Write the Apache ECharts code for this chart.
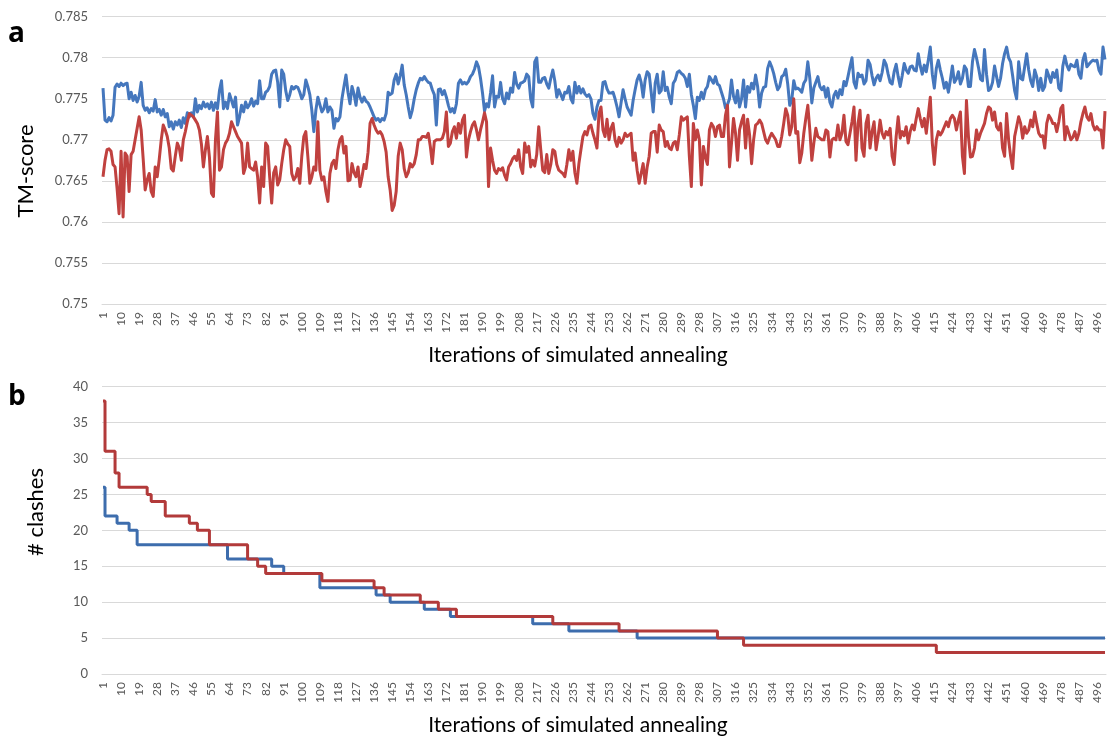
<!DOCTYPE html>
<html>
<head>
<meta charset="utf-8">
<title>Simulated annealing: TM-score and clashes</title>
<script src="https://cdn.jsdelivr.net/npm/echarts@6/dist/echarts.min.js"></script>
<style>
  html, body { margin: 0; padding: 0; background: #ffffff; }
  #chart { width: 1110px; height: 740px; }
</style>
</head>
<body>
<div id="chart"></div>
<script>
// Iteration numbers 1..500 used as category labels
const iterations = Array.from({ length: 500 }, (_, k) => String(k + 1));

// Panel a: TM-score per iteration (blue run)
const tmScoreBlue = [
  0.7763, 0.7724, 0.7722, 0.7727, 0.7723, 0.7730, 0.7764, 0.7768, 0.7765, 0.7769,
  0.7766, 0.7768, 0.7769, 0.7750, 0.7758, 0.7748, 0.7754, 0.7746, 0.7753, 0.7770,
  0.7742, 0.7736, 0.7739, 0.7733, 0.7738, 0.7735, 0.7749, 0.7734, 0.7737, 0.7730,
  0.7737, 0.7728, 0.7732, 0.7716, 0.7722, 0.7713, 0.7722, 0.7718, 0.7724, 0.7715,
  0.7727, 0.7720, 0.7733, 0.7728, 0.7733, 0.7728, 0.7750, 0.7734, 0.7742, 0.7738,
  0.7746, 0.7740, 0.7744, 0.7738, 0.7746, 0.7736, 0.7745, 0.7738, 0.7760, 0.7772,
  0.7738, 0.7746, 0.7738, 0.7756, 0.7748, 0.7740, 0.7752, 0.7718, 0.7728, 0.7742,
  0.7734, 0.7746, 0.7739, 0.7743, 0.7750, 0.7741, 0.7747, 0.7744, 0.7772, 0.7750,
  0.7750, 0.7758, 0.7760, 0.7765, 0.7780, 0.7784, 0.7785, 0.7770, 0.7740, 0.7785,
  0.7780, 0.7760, 0.7748, 0.7755, 0.7765, 0.7762, 0.7765, 0.7764, 0.7758, 0.7750,
  0.7755, 0.7773, 0.7765, 0.7755, 0.7736, 0.7710, 0.7736, 0.7752, 0.7743, 0.7734,
  0.7738, 0.7750, 0.7734, 0.7740, 0.7736, 0.7714, 0.7726, 0.7723, 0.7728, 0.7750,
  0.7765, 0.7779, 0.7758, 0.7744, 0.7765, 0.7756, 0.7742, 0.7763, 0.7752, 0.7746,
  0.7752, 0.7747, 0.7745, 0.7740, 0.7734, 0.7728, 0.7724, 0.7726, 0.7722, 0.7726,
  0.7724, 0.7732, 0.7758, 0.7755, 0.7757, 0.7773, 0.7780, 0.7768, 0.7778, 0.7791,
  0.7767, 0.7755, 0.7740, 0.7727, 0.7736, 0.7750, 0.7761, 0.7769, 0.7775, 0.7773,
  0.7777, 0.7773, 0.7770, 0.7769, 0.7761, 0.7755, 0.7718, 0.7761, 0.7762, 0.7755,
  0.7760, 0.7752, 0.7742, 0.7734, 0.7738, 0.7733, 0.7744, 0.7769, 0.7773, 0.7768,
  0.7770, 0.7768, 0.7771, 0.7777, 0.7780, 0.7786, 0.7795, 0.7789, 0.7775, 0.7757,
  0.7735, 0.7744, 0.7740, 0.7757, 0.7778, 0.7740, 0.7753, 0.7752, 0.7770, 0.7750,
  0.7744, 0.7757, 0.7750, 0.7763, 0.7758, 0.7782, 0.7768, 0.7763, 0.7769, 0.7770,
  0.7772, 0.7780, 0.7777, 0.7750, 0.7740, 0.7795, 0.7800, 0.7770, 0.7770, 0.7775,
  0.7776, 0.7768, 0.7763, 0.7775, 0.7785, 0.7772, 0.7752, 0.7761, 0.7755, 0.7749,
  0.7758, 0.7757, 0.7765, 0.7750, 0.7745, 0.7770, 0.7757, 0.7765, 0.7757, 0.7762,
  0.7756, 0.7753, 0.7755, 0.7750, 0.7732, 0.7725, 0.7740, 0.7748, 0.7748, 0.7770,
  0.7771, 0.7762, 0.7757, 0.7757, 0.7758, 0.7750, 0.7740, 0.7728, 0.7745, 0.7761,
  0.7750, 0.7740, 0.7735, 0.7730, 0.7748, 0.7761, 0.7773, 0.7779, 0.7770, 0.7752,
  0.7773, 0.7783, 0.7780, 0.7758, 0.7734, 0.7769, 0.7780, 0.7757, 0.7760, 0.7783,
  0.7760, 0.7764, 0.7752, 0.7744, 0.7769, 0.7773, 0.7782, 0.7784, 0.7781, 0.7779,
  0.7775, 0.7765, 0.7780, 0.7755, 0.7742, 0.7726, 0.7752, 0.7748, 0.7758, 0.7750,
  0.7761, 0.7765, 0.7777, 0.7773, 0.7769, 0.7777, 0.7768, 0.7766, 0.7758, 0.7750,
  0.7739, 0.7743, 0.7750, 0.7773, 0.7753, 0.7745, 0.7760, 0.7740, 0.7750, 0.7773,
  0.7740, 0.7765, 0.7758, 0.7769, 0.7762, 0.7779, 0.7765, 0.7740, 0.7757, 0.7764,
  0.7765, 0.7787, 0.7795, 0.7789, 0.7781, 0.7770, 0.7761, 0.7765, 0.7777, 0.7779,
  0.7786, 0.7768, 0.7742, 0.7748, 0.7772, 0.7762, 0.7763, 0.7761, 0.7758, 0.7769,
  0.7773, 0.7795, 0.7775, 0.7745, 0.7763, 0.7770, 0.7777, 0.7765, 0.7761, 0.7765,
  0.7752, 0.7763, 0.7746, 0.7740, 0.7754, 0.7759, 0.7751, 0.7761, 0.7755, 0.7771,
  0.7766, 0.7777, 0.7789, 0.7800, 0.7770, 0.7763, 0.7781, 0.7777, 0.7779, 0.7768,
  0.7772, 0.7797, 0.7792, 0.7778, 0.7767, 0.7775, 0.7779, 0.7772, 0.7782, 0.7797,
  0.7792, 0.7780, 0.7770, 0.7768, 0.7783, 0.7792, 0.7777, 0.7765, 0.7778, 0.7793,
  0.7785, 0.7781, 0.7789, 0.7790, 0.7785, 0.7784, 0.7805, 0.7790, 0.7780, 0.7791,
  0.7783, 0.7797, 0.7813, 0.7780, 0.7763, 0.7787, 0.7797, 0.7785, 0.7775, 0.7763,
  0.7770, 0.7758, 0.7773, 0.7790, 0.7770, 0.7774, 0.7783, 0.7768, 0.7775, 0.7790,
  0.7786, 0.7765, 0.7765, 0.7795, 0.7810, 0.7800, 0.7788, 0.7774, 0.7772, 0.7810,
  0.7780, 0.7760, 0.7762, 0.7770, 0.7790, 0.7777, 0.7765, 0.7775, 0.7793, 0.7805,
  0.7813, 0.7800, 0.7795, 0.7778, 0.7760, 0.7750, 0.7795, 0.7775, 0.7773, 0.7789,
  0.7805, 0.7785, 0.7772, 0.7765, 0.7785, 0.7777, 0.7760, 0.7775, 0.7760, 0.7765,
  0.7785, 0.7778, 0.7770, 0.7782, 0.7776, 0.7785, 0.7763, 0.7760, 0.7790, 0.7802,
  0.7791, 0.7785, 0.7792, 0.7790, 0.7789, 0.7797, 0.7780, 0.7775, 0.7797, 0.7805,
  0.7789, 0.7792, 0.7795, 0.7797, 0.7796, 0.7797, 0.7785, 0.7780, 0.7813, 0.7798
];

// Panel a: TM-score per iteration (red run)
const tmScoreRed = [
  0.7655, 0.7675, 0.7688, 0.7689, 0.7686, 0.7670, 0.7667, 0.7641, 0.7610, 0.7686,
  0.7606, 0.7684, 0.7680, 0.7637, 0.7682, 0.7686, 0.7700, 0.7714, 0.7728, 0.7712,
  0.7677, 0.7639, 0.7651, 0.7659, 0.7637, 0.7631, 0.7667, 0.7655, 0.7676, 0.7700,
  0.7718, 0.7712, 0.7704, 0.7690, 0.7665, 0.7662, 0.7680, 0.7696, 0.7690, 0.7675,
  0.7700, 0.7710, 0.7722, 0.7732, 0.7730, 0.7728, 0.7724, 0.7720, 0.7712, 0.7695,
  0.7667, 0.7688, 0.7704, 0.7679, 0.7635, 0.7631, 0.7700, 0.7734, 0.7663, 0.7667,
  0.7688, 0.7696, 0.7700, 0.7708, 0.7722, 0.7716, 0.7710, 0.7704, 0.7700, 0.7696,
  0.7659, 0.7667, 0.7696, 0.7667, 0.7665, 0.7663, 0.7673, 0.7655, 0.7623, 0.7667,
  0.7643, 0.7696, 0.7692, 0.7655, 0.7623, 0.7660, 0.7667, 0.7645, 0.7651, 0.7671,
  0.7688, 0.7700, 0.7695, 0.7692, 0.7659, 0.7651, 0.7655, 0.7665, 0.7647, 0.7680,
  0.7704, 0.7710, 0.7680, 0.7647, 0.7655, 0.7667, 0.7663, 0.7722, 0.7663, 0.7651,
  0.7655, 0.7637, 0.7625, 0.7659, 0.7671, 0.7675, 0.7665, 0.7688, 0.7700, 0.7704,
  0.7684, 0.7692, 0.7650, 0.7651, 0.7671, 0.7660, 0.7655, 0.7667, 0.7643, 0.7655,
  0.7670, 0.7665, 0.7685, 0.7720, 0.7726, 0.7718, 0.7712, 0.7708, 0.7710, 0.7706,
  0.7698, 0.7685, 0.7655, 0.7639, 0.7614, 0.7620, 0.7637, 0.7680, 0.7696, 0.7688,
  0.7665, 0.7655, 0.7660, 0.7671, 0.7667, 0.7671, 0.7682, 0.7700, 0.7700, 0.7704,
  0.7704, 0.7703, 0.7708, 0.7692, 0.7671, 0.7698, 0.7700, 0.7700, 0.7700, 0.7702,
  0.7710, 0.7734, 0.7692, 0.7696, 0.7710, 0.7716, 0.7702, 0.7720, 0.7708, 0.7724,
  0.7730, 0.7679, 0.7700, 0.7710, 0.7718, 0.7722, 0.7712, 0.7700, 0.7712, 0.7722,
  0.7733, 0.7722, 0.7643, 0.7690, 0.7675, 0.7663, 0.7659, 0.7665, 0.7663, 0.7666,
  0.7657, 0.7651, 0.7667, 0.7671, 0.7677, 0.7680, 0.7675, 0.7688, 0.7667, 0.7659,
  0.7696, 0.7685, 0.7692, 0.7667, 0.7675, 0.7668, 0.7682, 0.7716, 0.7688, 0.7663,
  0.7660, 0.7682, 0.7659, 0.7670, 0.7688, 0.7686, 0.7670, 0.7663, 0.7661, 0.7659,
  0.7655, 0.7670, 0.7688, 0.7675, 0.7686, 0.7660, 0.7647, 0.7671, 0.7688, 0.7704,
  0.7710, 0.7706, 0.7716, 0.7718, 0.7708, 0.7700, 0.7690, 0.7732, 0.7740, 0.7712,
  0.7704, 0.7725, 0.7700, 0.7714, 0.7720, 0.7700, 0.7692, 0.7703, 0.7696, 0.7700,
  0.7708, 0.7704, 0.7706, 0.7708, 0.7675, 0.7684, 0.7663, 0.7647, 0.7659, 0.7671,
  0.7647, 0.7667, 0.7680, 0.7708, 0.7710, 0.7710, 0.7685, 0.7718, 0.7712, 0.7710,
  0.7692, 0.7698, 0.7690, 0.7688, 0.7696, 0.7698, 0.7688, 0.7706, 0.7728, 0.7724,
  0.7726, 0.7728, 0.7680, 0.7643, 0.7720, 0.7700, 0.7712, 0.7700, 0.7645, 0.7692,
  0.7679, 0.7670, 0.7712, 0.7720, 0.7716, 0.7704, 0.7716, 0.7718, 0.7704, 0.7704,
  0.7730, 0.7742, 0.7667, 0.7696, 0.7726, 0.7708, 0.7675, 0.7712, 0.7722, 0.7730,
  0.7690, 0.7725, 0.7706, 0.7671, 0.7700, 0.7718, 0.7720, 0.7724, 0.7720, 0.7710,
  0.7700, 0.7696, 0.7703, 0.7708, 0.7704, 0.7700, 0.7692, 0.7692, 0.7704, 0.7720,
  0.7738, 0.7730, 0.7706, 0.7716, 0.7750, 0.7708, 0.7710, 0.7672, 0.7684, 0.7708,
  0.7726, 0.7742, 0.7712, 0.7675, 0.7696, 0.7714, 0.7704, 0.7702, 0.7700, 0.7700,
  0.7712, 0.7710, 0.7679, 0.7700, 0.7702, 0.7700, 0.7718, 0.7700, 0.7708, 0.7730,
  0.7698, 0.7694, 0.7708, 0.7722, 0.7740, 0.7675, 0.7720, 0.7736, 0.7690, 0.7680,
  0.7720, 0.7730, 0.7690, 0.7710, 0.7722, 0.7688, 0.7704, 0.7724, 0.7708, 0.7702,
  0.7710, 0.7706, 0.7714, 0.7680, 0.7670, 0.7704, 0.7728, 0.7702, 0.7710, 0.7705,
  0.7716, 0.7696, 0.7710, 0.7718, 0.7712, 0.7726, 0.7738, 0.7726, 0.7716, 0.7726,
  0.7708, 0.7730, 0.7752, 0.7696, 0.7670, 0.7700, 0.7710, 0.7706, 0.7710, 0.7716,
  0.7722, 0.7716, 0.7726, 0.7730, 0.7726, 0.7712, 0.7724, 0.7734, 0.7680, 0.7659,
  0.7748, 0.7704, 0.7679, 0.7680, 0.7690, 0.7712, 0.7700, 0.7708, 0.7714, 0.7720,
  0.7732, 0.7740, 0.7738, 0.7724, 0.7734, 0.7716, 0.7712, 0.7720, 0.7690, 0.7680,
  0.7732, 0.7700, 0.7680, 0.7665, 0.7704, 0.7716, 0.7728, 0.7720, 0.7702, 0.7716,
  0.7708, 0.7712, 0.7724, 0.7716, 0.7734, 0.7720, 0.7708, 0.7704, 0.7705, 0.7690,
  0.7720, 0.7730, 0.7726, 0.7720, 0.7720, 0.7710, 0.7722, 0.7738, 0.7742, 0.7700,
  0.7716, 0.7708, 0.7700, 0.7703, 0.7710, 0.7700, 0.7708, 0.7722, 0.7732, 0.7740,
  0.7728, 0.7724, 0.7732, 0.7718, 0.7712, 0.7716, 0.7712, 0.7712, 0.7690, 0.7735
];

// Panel b: number of clashes, stored as (first iteration, value) of each step
const clashBlueFrom  = [1, 2, 8, 14, 18, 63, 85, 91, 109, 137, 144, 161, 174, 215, 233, 267];
const clashBlueValue = [26, 22, 21, 20, 18, 16, 15, 14, 12, 11, 10, 9, 8, 7, 6, 5];
const clashRedFrom   = [1, 2, 7, 9, 23, 25, 32, 44, 48, 54, 73, 78, 82, 110, 136, 141, 159, 168, 177, 225, 258, 307, 320, 416];
const clashRedValue  = [38, 31, 28, 26, 25, 24, 22, 21, 20, 18, 16, 15, 14, 13, 12, 11, 10, 9, 8, 7, 6, 5, 4, 3];

// Axis ranges
const tmAxis = { min: 0.75, max: 0.785, step: 0.005 };
const clashAxis = { min: 0, max: 40, step: 5 };

// Turn step records into [categoryIndex, value] points, holding the last value to the final iteration
function stepPoints(from, values) {
  const pts = from.map((it, k) => [it - 1, values[k]]);
  pts.push([iterations.length - 1, values[values.length - 1]]);
  return pts;
}

const FONT = 'Lato';
const labelGray = '#595959';
const gridGray = '#d9d9d9';

function xAxisFor(gridIndex) {
  return {
    type: 'category',
    gridIndex,
    data: iterations,
    boundaryGap: true,
    axisLine: { show: true, lineStyle: { color: gridGray, width: 1 } },
    axisTick: { show: false },
    axisLabel: {
      interval: 8, rotate: 90, margin: 8,
      fontFamily: FONT, fontSize: 12, color: labelGray
    },
    splitLine: { show: false }
  };
}

function yAxisFor(gridIndex, r) {
  return {
    type: 'value',
    gridIndex,
    min: r.min, max: r.max, interval: r.step,
    axisLine: { show: false },
    axisTick: { show: false },
    axisLabel: { margin: 14, fontFamily: FONT, fontSize: 13, color: labelGray },
    splitLine: { show: true, lineStyle: { color: gridGray, width: 1 } }
  };
}

const chart = echarts.init(document.getElementById('chart'), null, { renderer: 'canvas' });

chart.setOption({
  animation: false,
  backgroundColor: '#ffffff',
  grid: [
    { left: 102, top: 16.7, width: 1004, height: 287.3 },
    { left: 102, top: 386.7, width: 1004, height: 287.3 }
  ],
  xAxis: [xAxisFor(0), xAxisFor(1)],
  yAxis: [yAxisFor(0, tmAxis), yAxisFor(1, clashAxis)],
  series: [
    {
      name: 'TM-score (blue)', type: 'line', xAxisIndex: 0, yAxisIndex: 0,
      data: tmScoreBlue, showSymbol: false, silent: true,
      lineStyle: { color: '#4577BD', width: 3, join: 'round' }
    },
    {
      name: 'TM-score (red)', type: 'line', xAxisIndex: 0, yAxisIndex: 0,
      data: tmScoreRed, showSymbol: false, silent: true,
      lineStyle: { color: '#C0413F', width: 3, join: 'round' }
    },
    {
      name: 'clashes (blue)', type: 'line', xAxisIndex: 1, yAxisIndex: 1,
      data: stepPoints(clashBlueFrom, clashBlueValue), step: 'end',
      showSymbol: false, silent: true,
      lineStyle: { color: '#3D6DAD', width: 3 }
    },
    {
      name: 'clashes (red)', type: 'line', xAxisIndex: 1, yAxisIndex: 1,
      data: stepPoints(clashRedFrom, clashRedValue), step: 'end',
      showSymbol: false, silent: true,
      lineStyle: { color: '#B23A3A', width: 3 }
    }
  ],
  graphic: [
    { type: 'text', x: 8, y: 34, silent: true,
      style: { text: 'a', font: 'bold 28px "Open Sans"', fill: '#000', align: 'left', verticalAlign: 'middle' } },
    { type: 'text', x: 8, y: 397, silent: true,
      style: { text: 'b', font: 'bold 28px "Open Sans"', fill: '#000', align: 'left', verticalAlign: 'middle' } },
    { type: 'text', x: 26, y: 171, rotation: Math.PI / 2, silent: true,
      style: { text: 'TM-score', font: '22px ' + FONT, fill: '#000', align: 'center', verticalAlign: 'middle' } },
    { type: 'text', x: 36, y: 512, rotation: Math.PI / 2, silent: true,
      style: { text: '# clashes', font: '22px ' + FONT, fill: '#000', align: 'center', verticalAlign: 'middle' } },
    { type: 'text', x: 578, y: 355, silent: true,
      style: { text: 'Iterations of simulated annealing', font: '21px ' + FONT, fill: '#000', align: 'center', verticalAlign: 'middle' } },
    { type: 'text', x: 578, y: 725, silent: true,
      style: { text: 'Iterations of simulated annealing', font: '21px ' + FONT, fill: '#000', align: 'center', verticalAlign: 'middle' } }
  ]
});
</script>
</body>
</html>
